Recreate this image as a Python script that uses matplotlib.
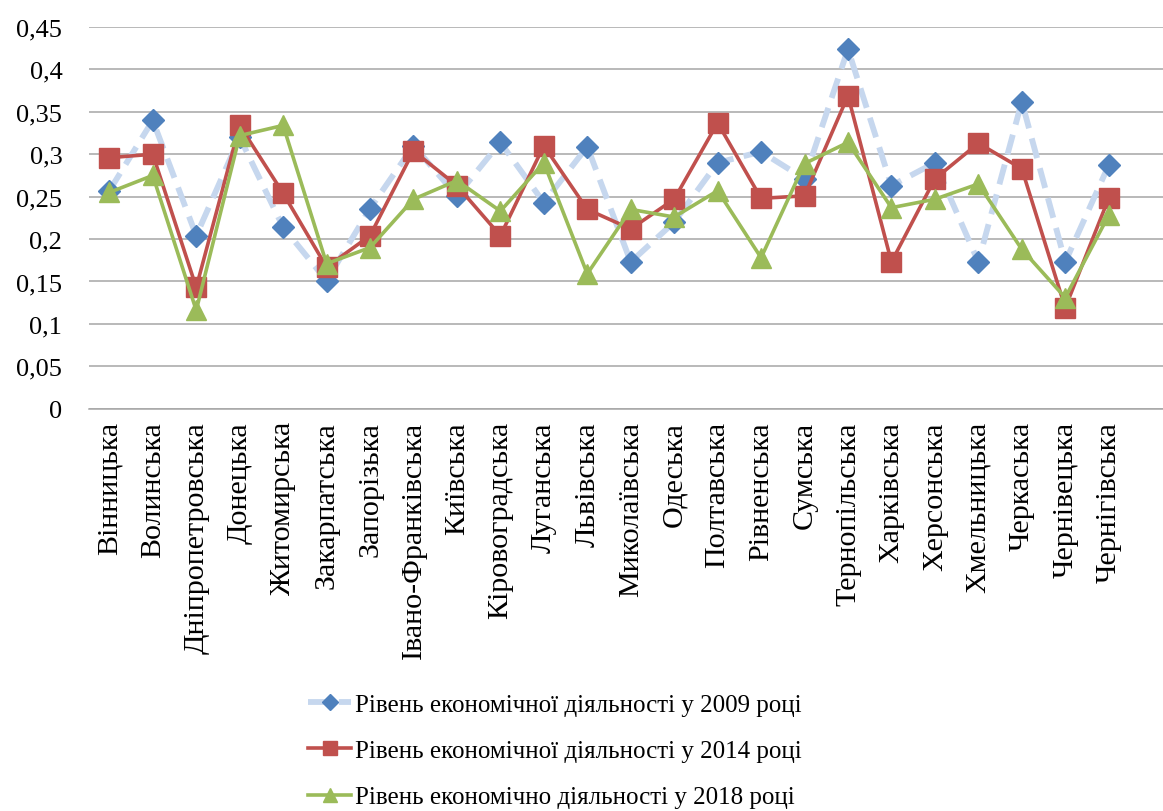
import matplotlib
matplotlib.use("Agg")
import matplotlib.pyplot as plt
from matplotlib.ticker import FixedLocator, FixedFormatter

regions = ["Вінницька", "Волинська", "Дніпропетровська", "Донецька", "Житомирська",
           "Закарпатська", "Запорізька", "Івано-Франківська", "Київська", "Кіровоградська",
           "Луганська", "Львівська", "Миколаївська", "Одеська", "Полтавська", "Рівненська",
           "Сумська", "Тернопільська", "Харківська", "Херсонська", "Хмельницька",
           "Черкаська", "Чернівецька", "Чернігівська"]

v2009 = [0.257, 0.340, 0.204, 0.320, 0.214, 0.151, 0.236, 0.310, 0.251, 0.314, 0.243, 0.309,
         0.173, 0.220, 0.290, 0.303, 0.271, 0.424, 0.263, 0.290, 0.173, 0.362, 0.173, 0.287]
v2014 = [0.296, 0.300, 0.143, 0.334, 0.254, 0.167, 0.204, 0.304, 0.263, 0.204, 0.310, 0.235,
         0.212, 0.247, 0.337, 0.248, 0.251, 0.369, 0.173, 0.271, 0.313, 0.283, 0.119, 0.248]
v2018 = [0.255, 0.275, 0.116, 0.322, 0.334, 0.171, 0.190, 0.247, 0.269, 0.233, 0.290, 0.159,
         0.235, 0.226, 0.257, 0.178, 0.289, 0.314, 0.237, 0.247, 0.265, 0.188, 0.131, 0.228]

series_labels = ["Рівень економічної діяльності у 2009 році",
                 "Рівень економічної діяльності у 2014 році",
                 "Рівень економічно діяльності у 2018 році"]

yticks = [0, 0.05, 0.1, 0.15, 0.2, 0.25, 0.3, 0.35, 0.4, 0.45]
ytick_labels = ["0", "0,05", "0,1", "0,15", "0,2", "0,25", "0,3", "0,35", "0,4", "0,45"]

plt.rcParams['font.family'] = ['Liberation Serif', 'DejaVu Serif']

fig = plt.figure(figsize=(11.63, 8.12), dpi=100)
ax = fig.add_axes([0.0763, 0.4954, 0.9237, 0.4701])

x = list(range(len(regions)))

ax.plot(x, v2009, color='#C6D7EE', lw=4.2, dashes=(3.5, 1.8),
        marker='D', markersize=11, markerfacecolor='#4F81BD', markeredgecolor='#4F81BD',
        label=series_labels[0], zorder=3)
ax.plot(x, v2014, color='#C0504D', lw=2.6,
        marker='s', markersize=14, markerfacecolor='#C0504D', markeredgecolor='#C0504D',
        label=series_labels[1], zorder=4)
ax.plot(x, v2018, color='#9BBB59', lw=2.6,
        marker='^', markersize=15, markerfacecolor='#9BBB59', markeredgecolor='#9BBB59',
        label=series_labels[2], zorder=5)

ax.set_ylim(0, 0.45)
ax.set_xlim(-0.474, 24.25)
ax.yaxis.set_major_locator(FixedLocator(yticks))
ax.yaxis.set_major_formatter(FixedFormatter(ytick_labels))
ax.set_xticks(x)
ax.set_xticklabels(regions, rotation=90, ha='center', va='top')

ax.grid(axis='y', color='#A6A6A6', lw=1.1, zorder=0)
ax.set_axisbelow(True)
for s in ['top', 'right', 'left']:
    ax.spines[s].set_visible(False)
ax.spines['bottom'].set_color('#A6A6A6')
ax.spines['bottom'].set_linewidth(1.1)
ax.tick_params(axis='both', length=0)
ax.tick_params(axis='y', pad=19, labelsize=19)
ax.tick_params(axis='x', pad=9, labelsize=21.6)

fig.legend(loc='center', bbox_to_anchor=(0.477, 0.074), frameon=False,
           fontsize=18, handlelength=1.7, handletextpad=0.15, labelspacing=0.95,
           markerscale=0.7)

fig.savefig('out.png', dpi=100)
